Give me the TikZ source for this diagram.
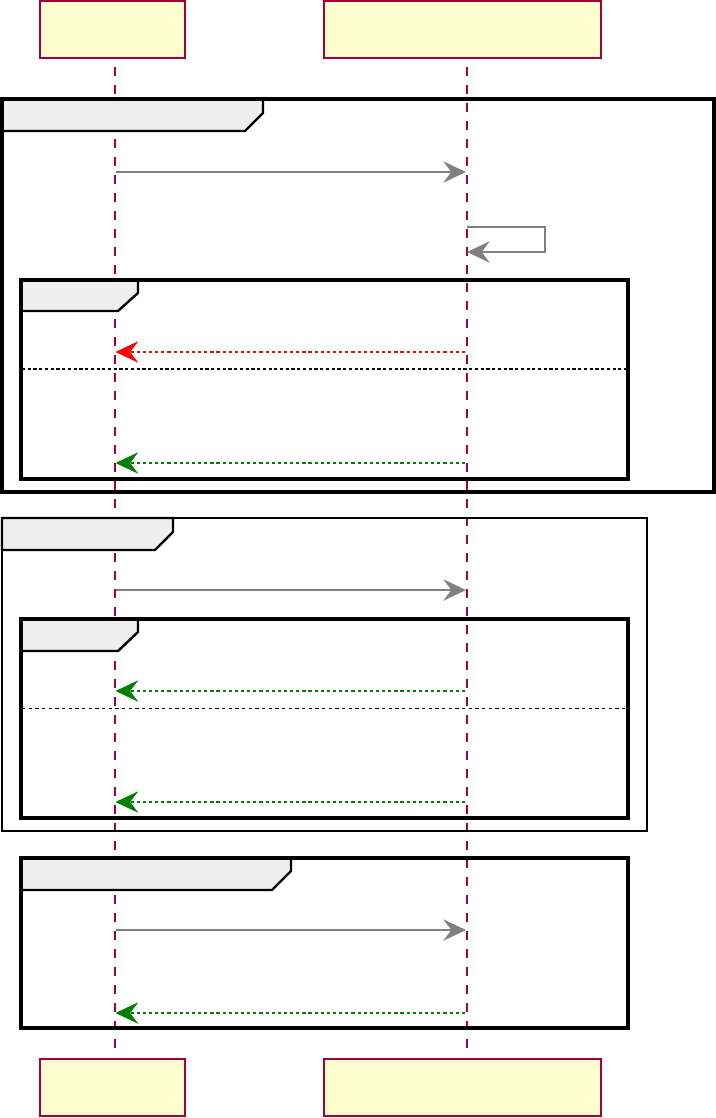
\documentclass[tikz,border=0pt]{standalone}
\usetikzlibrary{arrows.meta}
\definecolor{lifecol}{HTML}{A80036}
\definecolor{boxfill}{HTML}{FEFECE}
\definecolor{tabfill}{HTML}{EEEEEE}
\definecolor{msggray}{HTML}{808080}
\definecolor{msggreen}{HTML}{008000}
\definecolor{msgred}{HTML}{FF0000}
\begin{document}
\begin{tikzpicture}[x=0.75pt,y=-0.75pt,
  partbox/.style={draw=lifecol,fill=boxfill,line width=1.6pt,rectangle,inner sep=0pt,minimum height=42.75pt},
  lifeline/.style={draw=lifecol,line width=1.3pt,dash pattern=on 6.5pt off 7pt},
  framebox/.style={draw=black,line width=2.6pt},
  thinframe/.style={draw=black,line width=1.8pt},
  tabbox/.style={draw=black,fill=tabfill,line width=1.8pt,line join=miter},
  tip/.style={-{Stealth[length=17pt,width=16pt,inset=6pt]}},
  callmsg/.style={tip,draw=msggray,line width=1.3pt},
  retgreen/.style={tip,draw=msggreen,line width=1.3pt,dash pattern=on 2.4pt off 2.2pt},
  retred/.style={tip,draw=msgred,line width=1.3pt,dash pattern=on 2.4pt off 2.2pt},
  septhick/.style={draw=black,line width=1.4pt,dash pattern=on 2.4pt off 1.9pt},
  septhin/.style={draw=black,line width=0.6pt,dash pattern=on 2.5pt off 2.5pt}
]
\useasboundingbox (0,0) rectangle (716,1118);

% participants
\node[partbox,minimum width=108.75pt] (at) at (112.5,29.5) {};
\node[partbox,minimum width=207.75pt] (bt) at (462.5,29.5) {};
\node[partbox,minimum width=108.75pt] (ab) at (112.5,1087.5) {};
\node[partbox,minimum width=207.75pt] (bb) at (462.5,1087.5) {};

% lifelines
\coordinate (la1) at (115,67);
\coordinate (la2) at (115,1055);
\coordinate (lb1) at (467,67);
\coordinate (lb2) at (467,1055);
\draw[lifeline] (la1) -- (la2);
\draw[lifeline] (lb1) -- (lb2);

% frame 1
\filldraw[tabbox] (2,99) -- (263,99) -- (263,113) -- (245,131) -- (2,131) -- cycle;
\draw[framebox] (2,99) rectangle (714,492);
% inner alt frame 1
\filldraw[tabbox] (21,280) -- (138,280) -- (138,293) -- (118,311) -- (21,311) -- cycle;
\draw[framebox] (21,280) rectangle (628,479);

% frame 2
\filldraw[tabbox] (2,518) -- (173,518) -- (173,532) -- (155,550) -- (2,550) -- cycle;
\draw[thinframe] (2,518) rectangle (647,831);
% inner alt frame 2
\filldraw[tabbox] (21,619) -- (138,619) -- (138,632) -- (118,651) -- (21,651) -- cycle;
\draw[framebox] (21,619) rectangle (628,818);

% frame 3
\filldraw[tabbox] (21,858) -- (291,858) -- (291,871) -- (272,890) -- (21,890) -- cycle;
\draw[framebox] (21,858) rectangle (628,1028);

% message coordinates
\coordinate (a1) at (116,172);  \coordinate (b1) at (466,172);
\coordinate (s1) at (467,227);  \coordinate (s2) at (545,227);
\coordinate (s3) at (545,252);  \coordinate (s4) at (467,252);
\coordinate (b2) at (465,352);  \coordinate (a2) at (115.5,352);
\coordinate (b3) at (465,463);  \coordinate (a3) at (115.5,463);
\coordinate (a4) at (116,590);  \coordinate (b4) at (466,590);
\coordinate (b5) at (465,691);  \coordinate (a5) at (115.5,691);
\coordinate (b6) at (465,802);  \coordinate (a6) at (115.5,802);
\coordinate (a7) at (116,930);  \coordinate (b7) at (466,930);
\coordinate (b8) at (465,1013); \coordinate (a8) at (115.5,1013);

\draw[callmsg] (a1) -- (b1);
\draw[callmsg] (s1) -- (s2) -- (s3) -- (s4);
\draw[retred] (b2) -- (a2);
\draw[retgreen] (b3) -- (a3);
\draw[callmsg] (a4) -- (b4);
\draw[retgreen] (b5) -- (a5);
\draw[retgreen] (b6) -- (a6);
\draw[callmsg] (a7) -- (b7);
\draw[retgreen] (b8) -- (a8);

% separators
\coordinate (p1) at (22,369); \coordinate (q1) at (627,369);
\coordinate (p2) at (22,708); \coordinate (q2) at (627,708);
\draw[septhick] (p1) -- (q1);
\draw[septhin] (p2) -- (q2);
\end{tikzpicture}
\end{document}
